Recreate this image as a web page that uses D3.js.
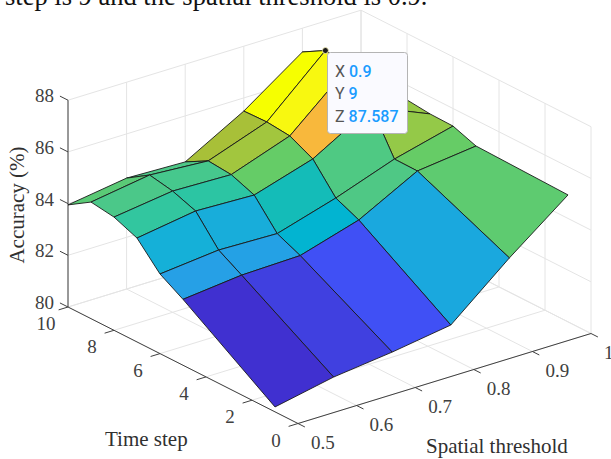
<!DOCTYPE html>
<html lang="en">
  <head>
    <meta charset="UTF-8">
    <title>Accuracy surface</title>
    <script src="https://cdn.jsdelivr.net/npm/d3@7"></script>
    <style>
      html, body { margin: 0; padding: 0; background: #fff; }
      svg { display: block; }
      .tick-label { font-family: 'Liberation Serif', serif; font-size: 19px; fill: #404040; }
      .axis-label { font-family: 'Liberation Serif', serif; font-size: 21px; fill: #303030; }
      .tip text { font-family: Roboto, 'Liberation Sans', sans-serif; font-size: 16px; }
    </style>
  </head>
  <body>
    <svg id="chart" width="611" height="459"></svg>
    <script>
      const thresholds = [0.5, 0.6, 0.7, 0.8, 0.9, 1];
      const timeSteps = [1, 5, 6, 7, 8, 9, 10];
      // one row per time step, one value per threshold
      const accuracy = [
        [80.19, 80.65, 80.92, 81.27, 83.17, 84.91],
        [82.55, 82.79, 82.85, 83.53, 84.73, 85.0],
        [83.08, 83.31, 83.25, 83.93, 84.74, 85.32],
        [84.02, 84.37, 84.29, 84.99, 86.3, 85.34],
        [84.38, 84.69, 84.63, 85.43, 87.4, 85.43],
        [84.51, 84.86, 84.71, 85.52, 87.587, 85.44],
        [83.95, 84.29, 84.22, 85.49, 87.08, 85.3]
      ];
      const xTicks = [0.5, 0.6, 0.7, 0.8, 0.9, 1];
      const yTicks = [0, 2, 4, 6, 8, 10];
      const zTicks = [80, 82, 84, 86, 88];
      const picked = { x: 0.9, y: 9, z: 87.587 };

      // parula, stretched to fit the colours in the picture
      const colorLevels = [80.19, 80.65, 80.92, 81.27, 82.3, 82.8, 83.17, 83.3, 83.55, 83.93, 84.35, 84.7, 85.0, 85.4, 85.52, 86.3, 87.1, 87.4];
      const colorValues = ["#3e26a8", "#4030d0", "#4040e0", "#4050f5", "#2a90ec", "#26a0e6", "#1aa8de", "#16b0d8", "#00b4d0", "#14bcb8", "#30c6a0", "#4cc888", "#66cc66", "#a0c840", "#a8c038", "#f8b83c", "#fcd030", "#f8f810"];
      const color = d3.scaleLinear().domain(colorLevels).range(colorValues);

      // oblique projection: each data axis moves the point along its own screen vector
      const origin = [298, 423.5];
      const xToPx = d3.scaleLinear().domain([0.5, 1]).range([0, 293]);
      const xToPy = d3.scaleLinear().domain([0.5, 1]).range([0, -90]);
      const yToPx = d3.scaleLinear().domain([0, 10]).range([0, -230]);
      const yToPy = d3.scaleLinear().domain([0, 10]).range([0, -116.5]);
      const zToPy = d3.scaleLinear().domain([80, 88]).range([0, -206.8]);

      const project = (x, y, z) => [
        origin[0] + xToPx(x) + yToPx(y),
        origin[1] + xToPy(x) + yToPy(y) + zToPy(z)
      ];

      const svg = d3.select("#chart");
      const line = d3.line();
      const seg = (a, b) => line([project(...a), project(...b)]);

      svg.append("text")
        .attr("x", 5).attr("y", 5)
        .attr("font-family", "'Liberation Serif', serif")
        .attr("font-size", 26.5).attr("fill", "#111")
        .text("step is 9 and the spatial threshold is 0.9.");

      // grid on floor and the two back walls
      const grid = svg.append("g").attr("stroke", "#e4e4e4").attr("fill", "none");
      const addGrid = (a, b) => grid.append("path").attr("d", seg(a, b));
      xTicks.forEach(x => {
        addGrid([x, 0, 80], [x, 10, 80]);
        addGrid([x, 10, 80], [x, 10, 88]);
      });
      yTicks.forEach(y => {
        addGrid([0.5, y, 80], [1, y, 80]);
        addGrid([1, y, 80], [1, y, 88]);
      });
      zTicks.forEach(z => {
        addGrid([0.5, 10, z], [1, 10, z]);
        addGrid([1, 0, z], [1, 10, z]);
      });

      // axes
      const axes = svg.append("g").attr("stroke", "#404040").attr("fill", "none");
      const addAxis = (a, b) => axes.append("path").attr("d", seg(a, b));
      addAxis([0.5, 10, 80], [0.5, 10, 88]);
      addAxis([0.5, 0, 80], [0.5, 10, 80]);
      addAxis([0.5, 0, 80], [1, 0, 80]);
      zTicks.forEach(z => addAxis([0.5, 10, z], [0.5, 10.35, z]));
      yTicks.forEach(y => addAxis([0.5, y, 80], [0.484, y, 80]));
      xTicks.forEach(x => addAxis([x, 0, 80], [x, -0.3, 80]));

      const labels = svg.append("g");
      zTicks.forEach(z => {
        const p = project(0.5, 10, z);
        labels.append("text").attr("class", "tick-label")
          .attr("x", p[0] - 14).attr("y", p[1] + 2)
          .attr("text-anchor", "end").text(z);
      });
      yTicks.forEach(y => {
        const p = project(0.5, y, 80);
        labels.append("text").attr("class", "tick-label")
          .attr("x", p[0] - 22).attr("y", p[1] + 23)
          .attr("text-anchor", "middle").text(y);
      });
      xTicks.forEach(x => {
        const p = project(x, 0, 80);
        labels.append("text").attr("class", "tick-label")
          .attr("x", p[0] + 13).attr("y", p[1] + 25).text(x);
      });
      labels.append("text").attr("class", "axis-label")
        .attr("text-anchor", "middle")
        .attr("transform", "translate(24,205) rotate(-90)")
        .text("Accuracy (%)");
      labels.append("text").attr("class", "axis-label")
        .attr("x", 105).attr("y", 446).text("Time step");
      labels.append("text").attr("class", "axis-label")
        .attr("x", 426).attr("y", 453).text("Spatial threshold");

      // surface, far faces first
      const faces = [];
      for (let r = timeSteps.length - 2; r >= 0; r--) {
        for (let c = thresholds.length - 2; c >= 0; c--) {
          const corners = [[c, r], [c + 1, r], [c + 1, r + 1], [c, r + 1]];
          faces.push({
            pts: corners.map(([i, j]) => project(thresholds[i], timeSteps[j], accuracy[j][i])),
            value: accuracy[r][c + 1]
          });
        }
      }
      svg.append("g").selectAll("path").data(faces).enter().append("path")
        .attr("d", d => line(d.pts) + "Z")
        .attr("fill", d => color(d.value))
        .attr("stroke", "#1a1a1a")
        .attr("stroke-width", 0.9)
        .attr("stroke-linejoin", "round");

      // data tip
      const tipAt = project(picked.x, picked.y, picked.z);
      const tip = svg.append("g").attr("class", "tip");
      tip.append("circle")
        .attr("cx", tipAt[0]).attr("cy", tipAt[1]).attr("r", 3)
        .attr("fill", "#1a1a1a").attr("stroke", "#fff8c0").attr("stroke-width", 0.8);
      tip.append("rect")
        .attr("x", 327.5).attr("y", 52.5).attr("width", 80).attr("height", 81).attr("rx", 3)
        .attr("fill", "#fafaff").attr("stroke", "#b4b4b4");
      [["X", picked.x, 77], ["Y", picked.y, 99], ["Z", picked.z, 122]].forEach(([name, val, base]) => {
        const t = tip.append("text").attr("x", 335).attr("y", base);
        t.append("tspan").attr("fill", "#555").text(name + " ");
        t.append("tspan").attr("fill", "#1a9cff").attr("font-weight", 500).text(val);
      });
    </script>
  </body>
</html>
